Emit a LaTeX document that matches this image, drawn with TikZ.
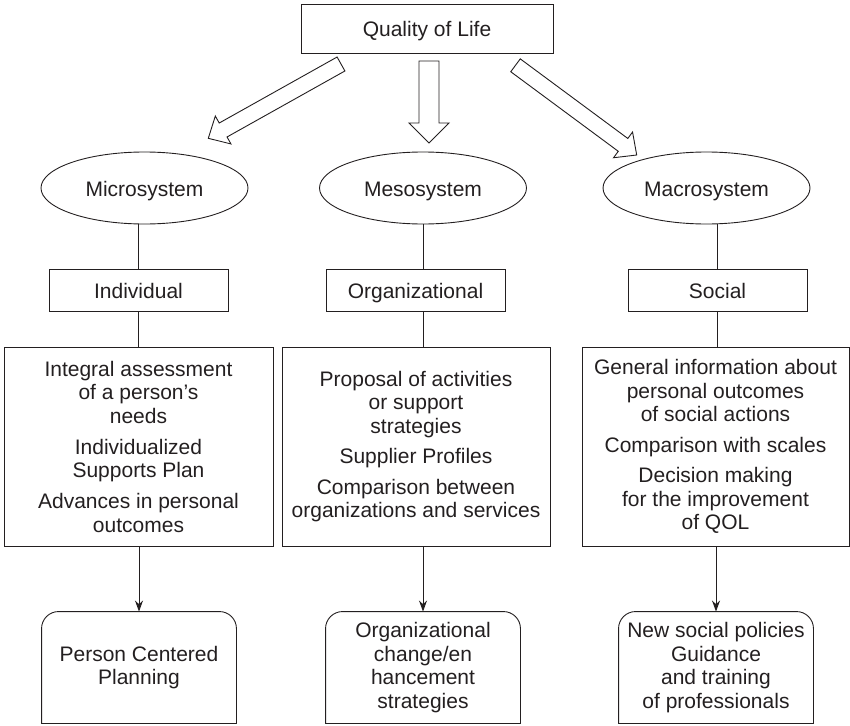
\documentclass[tikz,border=0pt]{standalone}
\usepackage{fontspec}
\setmainfont{Liberation Sans}
\usetikzlibrary{shapes.geometric,arrows.meta,calc}
\definecolor{ink}{HTML}{231F20}
\newcommand\qolarrow[5]{%
  \coordinate (qb) at ($(#2)!#5!(#1)$);
  \draw[blk] ($(#1)!#3!90:(#2)$) -- ($(qb)!#3!90:(#2)$) -- ($(qb)!#4!90:(#2)$)
     -- (#2) -- ($(qb)!#4!-90:(#2)$) -- ($(qb)!#3!-90:(#2)$) -- ($(#1)!#3!-90:(#2)$) -- cycle;}
\begin{document}
\begin{tikzpicture}[x=1pt,y=-1pt,line width=0.9pt,color=ink,
  txt/.style={font=\fontsize{21pt}{23.5pt}\selectfont,text=ink,align=center,inner sep=0pt},
  oneline/.style={text height=17pt,text depth=0pt},
  box/.style={draw,rectangle,txt},
  oval/.style={draw,ellipse,txt,oneline,minimum width=207pt,minimum height=72pt},
  smallbox/.style={box,oneline,minimum width=179pt,minimum height=42pt},
  bigbox/.style={box,minimum height=199pt},
  endbox/.style={txt,minimum width=194pt,minimum height=111pt},
  blk/.style={draw,fill=white,line join=miter},
  arr/.style={-{Stealth[length=11pt,width=8pt]}},
  topround/.style={rounded corners=17pt,line cap=round}]
\useasboundingbox (0,0) rectangle (850,725);

\node[box,oneline,minimum width=252pt,minimum height=49pt] (qol) at (427,28.5) {Quality of Life};

\node[oval] (micro) at (144.5,188) {Microsystem};
\node[oval] (meso) at (423,188) {Mesosystem};
\node[oval] (macro) at (706.5,188) {Macrosystem};

\node[smallbox] (ind) at (138.5,290) {Individual};
\node[smallbox] (org) at (415.5,290) {Organizational};
\node[smallbox] (soc) at (717.5,290) {Social};

\node[bigbox,minimum width=269pt] (b1) at (138.5,446.5)
  {Integral assessment\\of a person’s\\needs\\[7.5pt]Individualized\\Supports Plan\\[7.5pt]Advances in personal\\outcomes};
\node[bigbox,minimum width=268pt] (b2) at (416,446.5)
  {Proposal of activities\\or support\\strategies\\[7pt]Supplier Profiles\\[7pt]Comparison between\\organizations and services};
\node[bigbox,minimum width=267pt] (b3) at (715.5,446.5)
  {General information about\\personal outcomes\\of social actions\\[7pt]Comparison with scales\\[7pt]Decision making\\for the improvement\\of QOL};

\node[endbox] (p1) at (139,667.5) {Person Centered\\Planning};
\node[endbox] (p2) at (423,667.5) {Organizational\\change/en\\hancement\\strategies};
\node[endbox] (p3) at (716,667.5) {New social policies\\Guidance\\and training\\of professionals};

\foreach \n in {p1,p2,p3}{
  \draw[topround] (\n.south west) -- (\n.north west) -- (\n.north east) -- (\n.south east);
  \draw[line cap=round] (\n.south west) -- (\n.south east);
}

% block arrows from Quality of Life
\coordinate (t1) at (341,64);   \coordinate (h1) at (208.3,138.3);
\coordinate (t2) at (429,61);   \coordinate (h2) at (429,143);
\coordinate (t3) at (515.5,65.3); \coordinate (h3) at (636.7,155);
\qolarrow{t1}{h1}{8pt}{16pt}{17pt}
\qolarrow{t2}{h2}{10pt}{20pt}{20pt}
\qolarrow{t3}{h3}{8pt}{16pt}{17pt}

% connectors
\draw (ind.north) -- (ind.north |- micro.south);
\draw (ind.south) -- (b1.north);
\draw[arr] (b1.south -| p1.north) -- (p1.north);

\draw (meso.south) -- (meso.south |- org.north);
\draw (org.south -| meso.south) -- (b2.north -| meso.south);
\draw[arr] (b2.south -| p2.north) -- (p2.north);

\draw (soc.north) -- (soc.north |- macro.south);
\draw (soc.south) -- (soc.south |- b3.north);
\draw[arr] (b3.south -| p3.north) -- (p3.north);
\end{tikzpicture}
\end{document}
